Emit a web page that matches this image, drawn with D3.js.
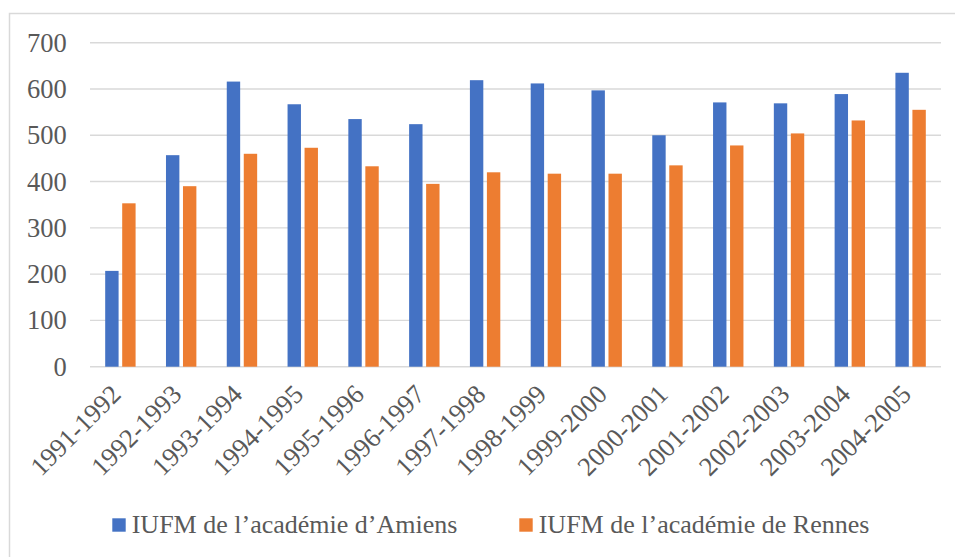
<!DOCTYPE html>
<html>
<head>
<meta charset="utf-8">
<script src="https://cdn.jsdelivr.net/npm/d3@7"></script>
<style>
  html, body { margin: 0; padding: 0; background: #fff; }
  svg { display: block; }
  svg text { font-family: "Liberation Serif", "Times New Roman", Times, serif !important; }
</style>
</head>
<body>
<svg id="chart" width="955" height="557" font-family="Liberation Serif"></svg>
<script>
const categories = ["1991-1992","1992-1993","1993-1994","1994-1995","1995-1996","1996-1997","1997-1998","1998-1999","1999-2000","2000-2001","2001-2002","2002-2003","2003-2004","2004-2005"];
const seriesNames = ["IUFM de l\u2019académie d\u2019Amiens", "IUFM de l\u2019académie de Rennes"];
const amiens = [207, 457, 616, 567, 535, 524, 619, 612, 597, 500, 571, 569, 589, 635];
const rennes = [353, 390, 460, 473, 433, 395, 420, 417, 417, 435, 478, 504, 532, 555];
const yTicks = [0, 100, 200, 300, 400, 500, 600, 700];
const colors = ["#4472C4", "#ED7D31"];

(function () {
const FONT = "Liberation Serif";
const TXT = "#595959";
const svg = d3.select("#chart");
const mLeft = 90, mRight = 941, mTop = 42.7, mBottom = 366.7;

// chart border
svg.append("rect").attr("x", 9.5).attr("y", 13.5).attr("width", 1000).attr("height", 600)
  .attr("fill", "none").attr("stroke", "#d9d9d9").attr("stroke-width", 1.5);

const x0 = d3.scaleBand().domain(categories).range([mLeft, mRight]).paddingInner(0.5).paddingOuter(0.25);
const x1 = d3.scaleBand().domain([0, 1]).range([0, x0.bandwidth()]).paddingInner(0.212);
const y = d3.scaleLinear().domain([0, 700]).range([mBottom, mTop]);

// gridlines
svg.append("g").selectAll("line").data(yTicks).join("line")
  .attr("x1", mLeft).attr("x2", mRight)
  .attr("y1", d => y(d)).attr("y2", d => y(d))
  .attr("stroke", "#d9d9d9").attr("stroke-width", 1.4);

// y labels
const yAxis = d3.axisLeft(y).tickValues(yTicks).tickSize(0).tickPadding(0);
const gy = svg.append("g").attr("transform", `translate(${66.7},0)`).call(yAxis)
  .attr("font-family", FONT).attr("font-size", 26.5);
gy.select(".domain").remove();
gy.selectAll("text")
  .attr("font-family", FONT)
  .style("font-family", FONT).style("font-size", "26.5px").style("fill", TXT);

// bars
const data = categories.map((c, i) => ({c, vals: [amiens[i], rennes[i]]}));
const groups = svg.append("g").selectAll("g").data(data).join("g")
  .attr("transform", d => `translate(${x0(d.c)},0)`);
groups.selectAll("rect").data(d => d.vals.map((v, k) => ({v, k}))).join("rect")
  .attr("x", d => x1(d.k)).attr("width", x1.bandwidth())
  .attr("y", d => y(d.v)).attr("height", d => y(0) - y(d.v))
  .attr("fill", d => colors[d.k]);

// x labels
svg.append("g").attr("font-family", FONT).selectAll("text").data(categories).join("text")
  .attr("transform", d => `translate(${x0(d) + x0.bandwidth() / 2 + 2},396) rotate(-45)`)
  .attr("text-anchor", "end")
  .attr("font-family", FONT)
  .style("font-family", FONT).style("font-size", "26.5px").style("fill", TXT)
  .text(d => d);

// legend
const legendX = [112.3, 519.3];
const lg = svg.append("g").attr("font-family", FONT).selectAll("g").data(seriesNames).join("g")
  .attr("transform", (d, i) => `translate(${legendX[i]},518.3)`);
lg.append("rect").attr("width", 13.4).attr("height", 13.4).attr("fill", (d, i) => colors[i]);
lg.append("text").attr("x", 19.4).attr("y", 15)
  .attr("font-family", FONT)
  .style("font-family", FONT).style("font-size", "26px").style("fill", TXT)
  .text(d => d);
})();
</script>
</body>
</html>
